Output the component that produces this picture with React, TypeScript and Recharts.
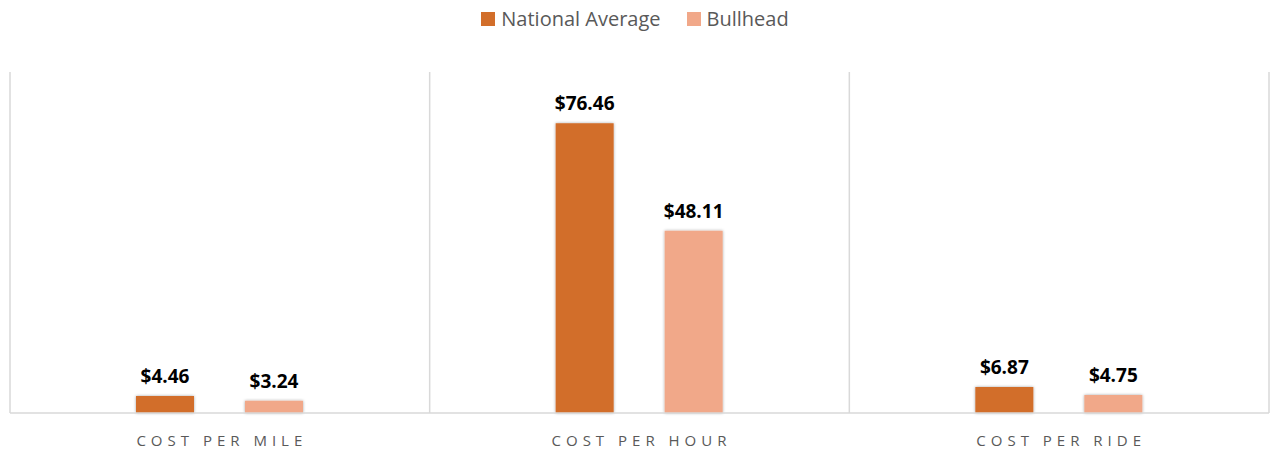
import { BarChart, Bar, XAxis, YAxis, CartesianGrid, LabelList } from "recharts";

const categories = ["COST PER MILE", "COST PER HOUR", "COST PER RIDE"];
const nationalAverage = [4.46, 76.46, 6.87];
const bullhead = [3.24, 48.11, 4.75];

const NATIONAL_COLOR = "#D26E2A";
const BULLHEAD_COLOR = "#F1A889";
const FONT = "'Open Sans', 'Noto Sans', sans-serif";

const data = categories.map((c, i) => ({
  category: c,
  national: nationalAverage[i],
  bullhead: bullhead[i],
}));

const legendItems = [
  { name: "National Average", color: NATIONAL_COLOR },
  { name: "Bullhead", color: BULLHEAD_COLOR },
];

const CategoryTick = ({ x, y, payload }: any) => (
  <text
    x={x + 2}
    y={y + 25}
    textAnchor="middle"
    fill="#595959"
    fontSize={15}
    fontFamily={FONT}
    letterSpacing={5}
  >
    {payload.value}
  </text>
);

const money = (v: any) => `$${Number(v).toFixed(2)}`;

export default function App() {
  return (
    <div style={{ position: "absolute", left: 0, top: 0, width: 1270, height: 452, background: "#fff" }}>
      <div
        style={{
          position: "absolute",
          top: 5,
          left: 0,
          width: 1270,
          display: "flex",
          justifyContent: "center",
          gap: 26,
          fontFamily: FONT,
          fontSize: 20,
          color: "#595959",
        }}
      >
        {legendItems.map((item) => (
          <div key={item.name} style={{ display: "flex", alignItems: "center" }}>
            <span style={{ width: 14, height: 14, background: item.color, marginRight: 6, display: "inline-block" }} />
            {item.name}
          </div>
        ))}
      </div>
      <BarChart
        width={1270}
        height={452}
        data={data}
        margin={{ top: 72, right: 1, left: 10, bottom: 0 }}
        barCategoryGap="30%"
        barGap={51}
      >
        <defs>
          <filter id="barShadow" x="-20%" y="-20%" width="140%" height="140%">
            <feDropShadow dx="0" dy="0" stdDeviation="1.5" floodColor="#000" floodOpacity="0.35" />
          </filter>
        </defs>
        <CartesianGrid
          horizontal={false}
          stroke="#d9d9d9"
          strokeWidth={1.5}
          verticalCoordinatesGenerator={({ offset }: any) =>
            [0, 1, 2, 3].map((k) => offset.left + (offset.width * k) / 3)
          }
        />
        <XAxis
          dataKey="category"
          axisLine={{ stroke: "#d9d9d9", strokeWidth: 1.5 }}
          tickLine={false}
          tick={<CategoryTick />}
          interval={0}
          height={39}
        />
        <YAxis hide domain={[0, 90]} />
        <Bar dataKey="national" name="National Average" fill={NATIONAL_COLOR} barSize={58} isAnimationActive={false} filter="url(#barShadow)">
          <LabelList dataKey="national" position="top" offset={13} formatter={money} fill="#000" fontWeight="bold" fontSize={19} fontFamily={FONT} />
        </Bar>
        <Bar dataKey="bullhead" name="Bullhead" fill={BULLHEAD_COLOR} barSize={58} isAnimationActive={false} filter="url(#barShadow)">
          <LabelList dataKey="bullhead" position="top" offset={13} formatter={money} fill="#000" fontWeight="bold" fontSize={19} fontFamily={FONT} />
        </Bar>
      </BarChart>
    </div>
  );
}
